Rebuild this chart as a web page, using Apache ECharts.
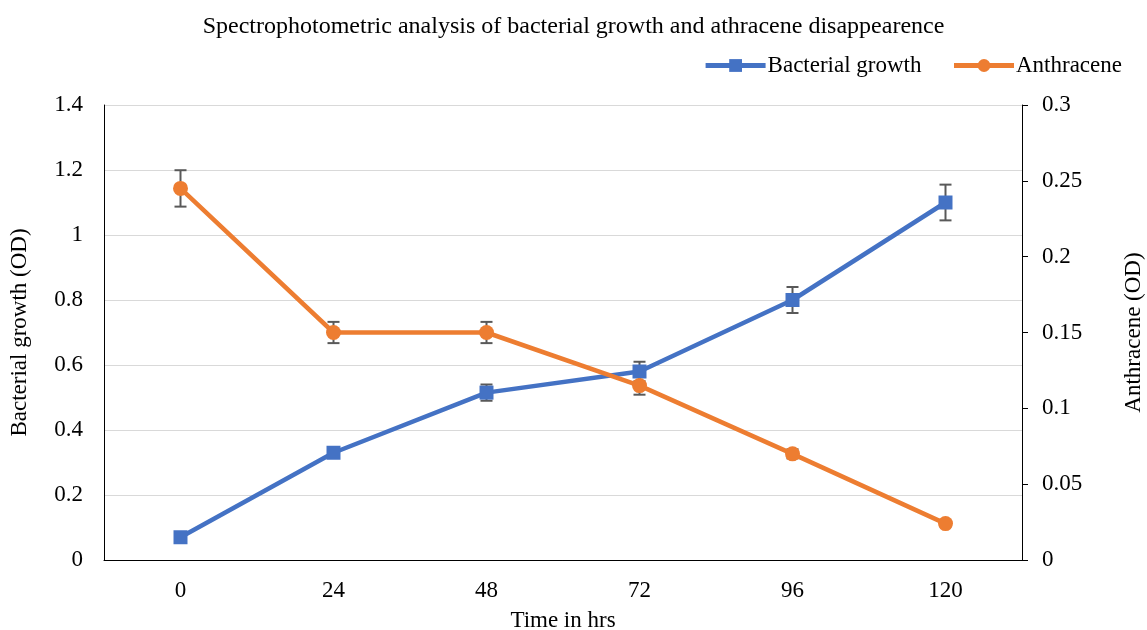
<!DOCTYPE html>
<html>
<head>
<meta charset="utf-8">
<title>Spectrophotometric analysis</title>
<script src="https://cdn.jsdelivr.net/npm/echarts@6/dist/echarts.min.js"></script>
<style>
  html, body { margin: 0; padding: 0; background: #fff; }
  #chart { width: 1147px; height: 630px; }
</style>
</head>
<body>
<div id="chart"></div>
<script>
// Sampling times (hours)
const hours = ['0', '24', '48', '72', '96', '120'];

// Bacterial growth, optical density (left axis)
const growthOD = [0.07, 0.33, 0.515, 0.58, 0.80, 1.10];
const growthErr = [0.008, 0.012, 0.025, 0.03, 0.04, 0.055];

// Anthracene, optical density (right axis)
const anthraceneOD = [0.245, 0.15, 0.15, 0.115, 0.07, 0.024];
const anthraceneErr = [0.012, 0.007, 0.007, 0.006, 0.003, 0.002];

const serif = '"Liberation Serif", "Times New Roman", serif';
const textColor = '#000';
const labelSize = 23;

// Draws vertical error bars with caps for a given series
function errorBars(values, errs, axisIndex) {
  return {
    type: 'custom',
    yAxisIndex: axisIndex,
    z: 1,
    silent: true,
    data: values.map((v, i) => [i, v - errs[i], v + errs[i]]),
    renderItem: function (params, api) {
      const lo = api.coord([api.value(0), api.value(1)]);
      const hi = api.coord([api.value(0), api.value(2)]);
      const half = 6;
      const style = { stroke: '#595959', lineWidth: 2 };
      return {
        type: 'group',
        children: [
          { type: 'line', shape: { x1: lo[0], y1: lo[1], x2: hi[0], y2: hi[1] }, style: style },
          { type: 'line', shape: { x1: lo[0] - half, y1: lo[1], x2: lo[0] + half, y2: lo[1] }, style: style },
          { type: 'line', shape: { x1: hi[0] - half, y1: hi[1], x2: hi[0] + half, y2: hi[1] }, style: style }
        ]
      };
    }
  };
}

const chart = echarts.init(document.getElementById('chart'), null, { renderer: 'canvas' });

chart.setOption({
  animation: false,
  backgroundColor: '#fff',
  title: {
    text: 'Spectrophotometric analysis of bacterial growth and athracene disappearence',
    left: 'center',
    top: 10,
    textStyle: { fontFamily: serif, fontSize: 24, fontWeight: 'normal', color: textColor }
  },
  legend: {
    right: 20,
    top: 49,
    itemWidth: 60,
    itemHeight: 16,
    itemGap: 30,
    lineStyle: { width: 5 },
    textStyle: { fontFamily: serif, fontSize: labelSize, color: textColor, padding: [0, 0, 0, -3] },
    data: ['Bacterial growth', 'Anthracene']
  },
  grid: { left: 104, right: 125, top: 105, bottom: 70, containLabel: false, outerBoundsMode: 'none' },
  xAxis: {
    type: 'category',
    data: hours,
    boundaryGap: true,
    name: 'Time in hrs',
    nameLocation: 'middle',
    nameGap: 49,
    nameTextStyle: { fontFamily: serif, fontSize: labelSize, color: textColor },
    axisLine: { lineStyle: { color: '#000', width: 1 } },
    axisTick: { show: false },
    axisLabel: { fontFamily: serif, fontSize: labelSize, color: textColor, margin: 19 }
  },
  yAxis: [
    {
      type: 'value',
      min: 0, max: 1.4, interval: 0.2,
      name: 'Bacterial growth (OD)',
      nameLocation: 'middle',
      nameGap: 73,
      nameTextStyle: { fontFamily: serif, fontSize: labelSize, color: textColor },
      axisLine: { show: true, lineStyle: { color: '#000', width: 1 } },
      axisTick: { show: false },
      axisLabel: { fontFamily: serif, fontSize: labelSize, color: textColor, margin: 21 },
      splitLine: { lineStyle: { color: '#d9d9d9', width: 1 } }
    },
    {
      type: 'value',
      min: 0, max: 0.3, interval: 0.05,
      name: 'Anthracene (OD)',
      nameLocation: 'middle',
      nameGap: 100,
      nameRotate: 90,
      nameTextStyle: { fontFamily: serif, fontSize: labelSize, color: textColor },
      axisLine: { show: true, lineStyle: { color: '#000', width: 1 } },
      axisTick: { show: true, inside: false, length: 6, lineStyle: { color: '#000' } },
      axisLabel: { fontFamily: serif, fontSize: labelSize, color: textColor, margin: 20 },
      splitLine: { show: false }
    }
  ],
  series: [
    errorBars(growthOD, growthErr, 0),
    errorBars(anthraceneOD, anthraceneErr, 1),
    {
      name: 'Bacterial growth',
      type: 'line',
      yAxisIndex: 0,
      data: growthOD,
      z: 3,
      symbol: 'rect',
      symbolSize: 14,
      lineStyle: { color: '#4472c4', width: 4.5 },
      itemStyle: { color: '#4472c4' }
    },
    {
      name: 'Anthracene',
      type: 'line',
      yAxisIndex: 1,
      data: anthraceneOD,
      z: 3,
      symbol: 'circle',
      symbolSize: 15,
      lineStyle: { color: '#ed7d31', width: 4.5 },
      itemStyle: { color: '#ed7d31' }
    }
  ]
});
</script>
</body>
</html>
